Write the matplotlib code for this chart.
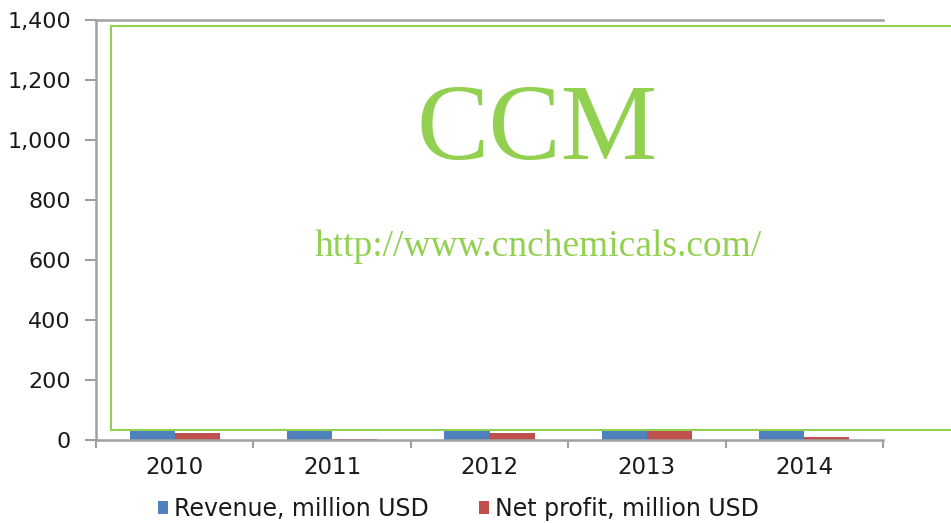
import matplotlib
matplotlib.use("Agg")
import matplotlib.pyplot as plt
from matplotlib.patches import Rectangle
import numpy as np

years = ["2010", "2011", "2012", "2013", "2014"]
revenue = [1050, 1120, 1210, 1300, 1260]
net_profit = [23, 0.5, 23, 60, 10]
yticks = [0, 200, 400, 600, 800, 1000, 1200, 1400]

BLUE = "#4F81BD"
RED = "#C0504D"
GREEN = "#92D050"
GRAY = "#A0A0A0"
TXT = "#1a1a1a"

plt.rcParams['font.family'] = ['DejaVu Sans']

fig = plt.figure(figsize=(9.51, 5.23), dpi=100)
ax = fig.add_axes([96/951, 1-439.5/523, (883-96)/951, (439.5-20)/523])

x = np.arange(len(years))
w = 0.286
ax.bar(x - w/2, revenue, w, color=BLUE, label="Revenue, million USD")
ax.bar(x + w/2, net_profit, w, color=RED, label="Net profit, million USD")

ax.set_xlim(-0.5, len(years) - 0.5)
ax.set_ylim(0, 1400)
ax.set_yticks(yticks)
ax.set_yticklabels([f"{v:,}" for v in yticks], fontsize=16, color=TXT)
ax.set_xticks(np.arange(len(years) + 1) - 0.5)
ax.set_xticklabels([])
ax.set_xticks(x, minor=True)
ax.set_xticklabels(years, minor=True, fontsize=16.5, color=TXT)
ax.tick_params(axis='x', which='minor', length=0, pad=12)
ax.tick_params(axis='x', which='major', length=6, width=1.5, color=GRAY, direction='out')
ax.tick_params(axis='y', length=8, width=1.5, color=GRAY, pad=10)

for s in ['left', 'bottom', 'top']:
    ax.spines[s].set_color(GRAY)
    ax.spines[s].set_linewidth(1.8)
ax.spines['right'].set_visible(False)

# legend
leg = fig.legend(loc='lower center', bbox_to_anchor=(0.482, -0.036), ncol=2, frameon=False,
                 fontsize=17, handlelength=0.45, handleheight=0.45, handletextpad=0.25,
                 columnspacing=2.1)
for t in leg.get_texts():
    t.set_color(TXT)

# watermark box
rect = Rectangle((111/951, 1-429.5/523), 1.0, (429.5-25.5)/523, transform=fig.transFigure,
                 facecolor='white', edgecolor=GREEN, linewidth=1.5, zorder=5)
fig.patches.append(rect)
fig.text(537/951, 1-159/523, "CCM", transform=fig.transFigure, ha='center', va='baseline',
         color=GREEN, fontsize=78, family=['Liberation Serif'], zorder=6)
fig.text(538/951, 1-256/523, "http://www.cnchemicals.com/", transform=fig.transFigure,
         ha='center', va='baseline', color=GREEN, fontsize=27, family=['Liberation Serif'], zorder=6)

fig.savefig("out.png", dpi=100)
